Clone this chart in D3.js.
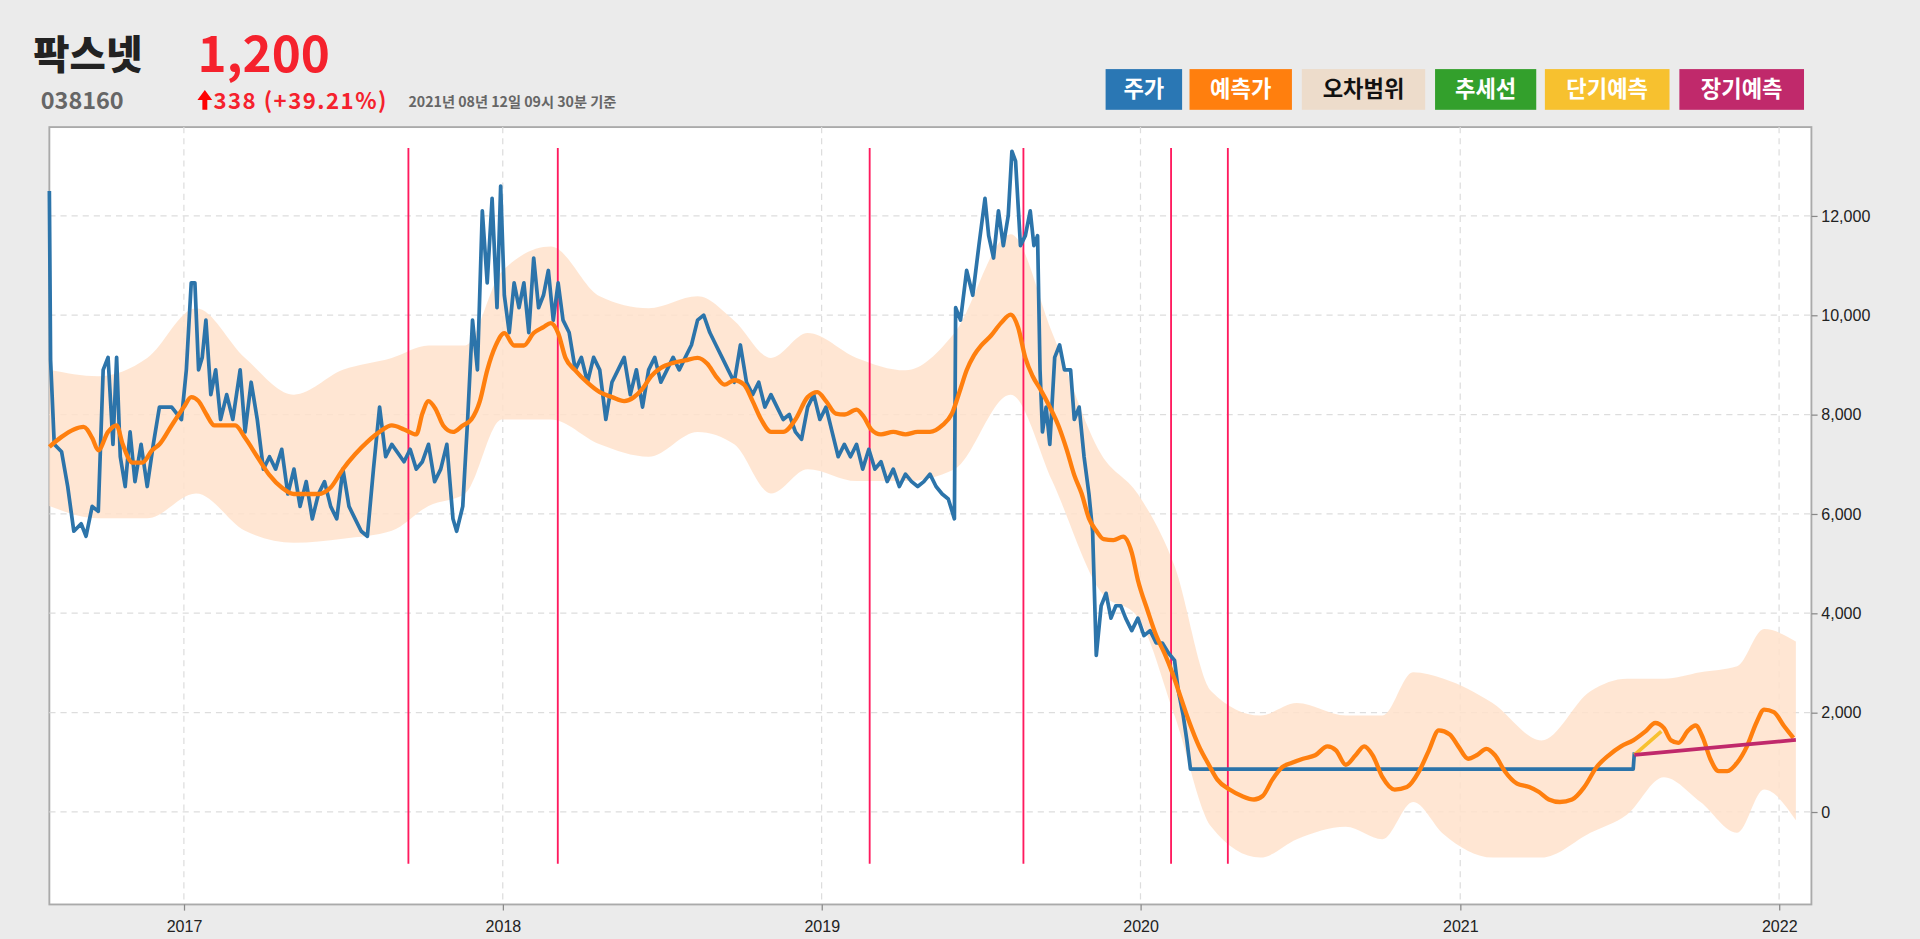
<!DOCTYPE html>
<html><head><meta charset="utf-8">
<script src="https://cdn.jsdelivr.net/npm/d3@7"></script>
<style>body{margin:0;background:#ebebeb;overflow:hidden}svg{display:block}</style>
</head><body>
<script>
// weekly index from 2016-07-31
const priceWeeks=[0,0.2,0.8,2,3,4,5.2,6,7,8,8.8,9.6,10.4,11,11.6,12.4,13.2,14,15,16,17,18,20,21.6,22.4,23.2,23.8,24.4,25,25.6,26.4,27.2,28,29,30,31.2,32,33,34,35,36,37,38,39,40,41,42,43,44,45,46,47,48,49,50,51,52,53,54,55,56,58,59,60,61,62,63,64,65,66,66.6,67.6,68.4,69.2,70,70.8,71.6,72.4,73.2,73.8,74.4,75.2,76,76.8,77.6,78.4,79.2,80,80.8,81.6,82.4,83.2,84,85,86,87,88,89,90,91,92,93,94,95,96,97,98,99,100,101,102,103,104,105,106,107,108,109,110,111,112,113,114,115,116,117,118,119,120,121,122,123,124,125,126,127,128,129,130,131,132,133,134,135,136,137,138,139,140,141,142,143,144,145,146,147,148,148.2,149,150,151,152,153,153.6,154.4,155.2,156,156.8,157.4,158,158.8,159.6,160.4,161,161.6,162,162.4,163,163.6,164.4,165.2,166,167,167.6,168.4,169.2,170,170.6,171.2,172,172.8,173.6,174.4,175.2,176,177,178,179,180,181,182,183,184,184.6,185.4,186,186.6,259,259.2];
const priceValues=[12500,9100,7400,7250,6550,5650,5800,5550,6150,6050,8900,9150,7400,9150,7150,6550,7650,6650,7400,6550,7400,8150,8150,7900,8900,10650,10650,8900,9150,9900,8400,8900,7900,8400,7900,8900,7650,8650,7900,6900,7150,6900,7300,6400,6900,6150,6650,5900,6400,6650,6150,5900,6900,6150,5900,5650,5550,6900,8150,7150,7400,7050,7300,6900,7050,7400,6650,6900,7400,5900,5650,6150,7900,9900,8900,12100,10650,12350,10150,12600,10400,9650,10650,10150,10650,9650,11150,10150,10400,10900,9900,10650,9900,9650,8900,9150,8650,9150,8900,7900,8650,8900,9150,8400,8900,8150,8900,9150,8650,8900,9150,8900,9150,9400,9900,10000,9650,9400,9150,8900,8650,9400,8650,8400,8650,8150,8400,8150,7900,8000,7650,7500,8150,8400,7900,8150,7650,7150,7400,7150,7400,6900,7300,6900,7050,6650,6900,6550,6800,6650,6550,6650,6800,6550,6400,6300,5900,10150,9900,10900,10400,11400,12350,11600,11150,12100,11400,12000,13300,13100,11400,11600,12100,11400,11600,8900,7650,8150,7400,9150,9400,8900,8900,7900,8150,7150,6400,5650,3150,4150,4400,3900,4150,4150,3900,3650,3900,3550,3650,3400,3400,3200,3050,2450,1950,1450,862,862,1200];
const predWeeks=[0,2,4,5.6,7,8,9.6,11,12,13.6,15.2,16.8,18,20,22,23.2,24.4,25.6,27,29,30.4,32,34,36,38,40,42,44,46,48,50,52,54,56,58,60,61,62,63.2,64.4,66,67.6,69,70.4,71.6,73,74.4,76,77.6,79.2,80.8,82,83.2,84.4,86,88,90,92,94,95.6,97,98.4,100,102,104,106,107.6,109,110.4,112,113.6,115,116.4,118,120,122,124,125.6,127,128.6,130,132,133.2,134.4,136,138,140,142,144,146,147.6,149,150,151.2,152.4,154,155.6,157.2,158.4,159.6,160.8,162,163.6,165,166.4,167.6,168.8,170,171.2,172.4,174,175.6,177,178,179.6,181,182.4,183.6,185,186.4,188,189.6,191,193,195,197,198.4,200,201.6,203.2,205,207,209,210.4,212,213.6,215,216.4,218,220,222,224,225.6,227.2,229,230.4,232,233.4,235,236.4,238,240,242,243.6,245.2,247,249,251,253,255,257,259,261,262.6,264,265.2,266.4,268,269.2,270.4,271.6,273,274.4,276,277.6,279.2,280.4,282,283.6,285.2];
const predValues=[7350,7550,7700,7750,7530,7280,7650,7780,7400,7030,7030,7280,7400,7780,8150,8350,8270,8020,7780,7780,7780,7530,7150,6780,6530,6400,6400,6400,6530,6900,7200,7450,7650,7780,7700,7600,8020,8270,8100,7780,7650,7780,7900,8270,8890,9390,9640,9390,9390,9640,9760,9840,9640,9140,8890,8640,8450,8350,8270,8350,8520,8770,8940,9040,9090,9140,9020,8770,8600,8690,8600,8270,7900,7650,7650,7900,8350,8450,8270,8020,8000,8100,7950,7700,7600,7650,7600,7650,7650,7780,8020,8520,8890,9190,9390,9590,9840,10010,9760,9140,8770,8520,8150,7780,7280,6780,6410,5910,5660,5490,5470,5540,5220,4670,4050,3550,3180,2810,2310,1810,1320,950,650,450,320,250,320,650,900,990,1070,1140,1320,1240,950,1140,1320,1140,700,450,500,820,1240,1640,1560,1320,1070,1140,1270,1140,820,570,500,400,250,200,250,500,900,1140,1320,1440,1620,1790,1690,1440,1390,1640,1740,1490,1070,820,820,990,1320,1810,2060,2010,1740,1490];
const bandWeeks=[0,8,16,24,32,40,48,56,62,68,74,82,90,98,106,112,118,124,132,140,148,157.2,164,172,178,184,190,198,204,212,218,223,228,236,244,252,258,264,270,276,280.4,285.6];
const bandUpper=[8900,8770,9140,10140,9140,8400,8900,9140,9390,9390,10880,11380,10380,10140,10380,9890,9140,9640,9140,8890,9640,11630,9640,7200,6400,4950,2430,1940,2190,1940,1940,2810,2680,2190,1440,2430,2680,2680,2810,2930,3680,3430];
const bandLower=[6160,5910,5910,6410,5660,5420,5500,5660,6160,6410,7900,7900,7400,7150,7650,7400,6410,6900,6660,6660,6900,8400,6660,4420,3920,1940,-300,-920,-550,-300,-550,200,-450,-920,-920,-420,-50,700,200,-420,450,-170];
const shortWeeks=[259.2,263.6], shortValues=[1150,1620];
const longWeeks=[259.2,285.6], longValues=[1150,1450];
const eventDates=["2017-09-15","2018-03-05","2019-02-25","2019-08-20","2020-02-05","2020-04-10"];
const yTicks=[0,2000,4000,6000,8000,10000,12000];
const legendLabels=["주가","예측가","오차범위","추세선","단기예측","장기예측"];
const legendColors=["#2a77b4","#ff7f0e","#eddccb","#33a02c","#f7c12f","#c0296b"];
const legendText=["#fff","#fff","#111","#fff","#fff","#fff"];

const W=1556,H=761;
const svg=d3.select("body").append("svg").attr("width",1920).attr("height",939)
 .attr("viewBox",`0 0 ${W} ${H}`).attr("preserveAspectRatio","none");
const start=new Date(2016,6,31);
const wk=w=>new Date(start.getTime()+w*7*864e5);
const L=40,R=1468,T=103,B=733;
const x=d3.scaleTime().domain([start,new Date(2022,1,7)]).range([L,R]);
const y=d3.scaleLinear().domain([(658-B)*24.84/1,(658-T)*24.84]).range([B,T]);
const kr="'Noto Sans CJK KR','Noto Sans',sans-serif";

svg.append("rect").attr("x",L).attr("y",T).attr("width",R-L).attr("height",B-T).attr("fill","#fff").attr("stroke","#aaa").attr("stroke-width",1.5);
const g=svg.append("g");
const xt=x.ticks(d3.timeYear.every(1));
g.selectAll(".vg").data(xt).join("line").attr("x1",d=>x(d)).attr("x2",d=>x(d)).attr("y1",T).attr("y2",B).attr("stroke","#ddd").attr("stroke-dasharray","5,4");
g.selectAll(".hg").data(yTicks).join("line").attr("x1",L).attr("x2",R).attr("y1",d=>y(d)).attr("y2",d=>y(d)).attr("stroke","#ddd").attr("stroke-dasharray","5,4");
g.append("g").attr("transform",`translate(0,${B})`).call(d3.axisBottom(x).tickValues(xt).tickFormat(d3.timeFormat("%Y")).tickSize(5))
 .call(a=>{a.select(".domain").remove();a.selectAll("text").attr("font-family","Liberation Sans,Arial").attr("font-size",13).attr("fill","#222").attr("dy","1.1em");a.selectAll("line").attr("stroke","#888")});
g.append("g").attr("transform",`translate(${R},0)`).call(d3.axisRight(y).tickValues(yTicks).tickFormat(d3.format(",")).tickSize(5))
 .call(a=>{a.select(".domain").remove();a.selectAll("text").attr("font-family","Liberation Sans,Arial").attr("font-size",13).attr("fill","#222");a.selectAll("line").attr("stroke","#888")});

const band=d3.area().x((d,i)=>x(wk(bandWeeks[i]))).y0((d,i)=>y(bandLower[i])).y1((d,i)=>y(bandUpper[i])).curve(d3.curveMonotoneX);
g.append("path").datum(bandWeeks).attr("d",band).attr("fill","#ffe2cb").attr("opacity",0.85);
g.selectAll(".ev").data(eventDates).join("line").attr("x1",d=>x(new Date(d))).attr("x2",d=>x(new Date(d))).attr("y1",120).attr("y2",700).attr("stroke","#ff1a5e").attr("stroke-width",1.5);
const line=(ws,vs,c,w,curve)=>g.append("path").datum(ws).attr("fill","none").attr("stroke",c).attr("stroke-width",w).attr("stroke-linejoin","round")
 .attr("d",d3.line().x((d,i)=>x(wk(ws[i]))).y((d,i)=>y(vs[i])).curve(curve||d3.curveLinear));
line(priceWeeks,priceValues,"#2c74aa",3);
line(predWeeks,predValues,"#ff7f0e",3.5,d3.curveMonotoneX);
line(shortWeeks,shortValues,"#f7c12f",3);
line(longWeeks,longValues,"#c0296b",3);

// header
svg.append("text").attr("x",27).attr("y",56).text("팍스넷").attr("font-family",kr).attr("font-weight",900).attr("font-size",32).attr("fill","#222");
svg.append("text").attr("x",160).attr("y",58).text("1,200").attr("font-family",kr).attr("font-weight",700).attr("font-size",40).attr("fill","#f5222d");
svg.append("text").attr("x",33).attr("y",88).text("038160").attr("font-family",kr).attr("font-weight",700).attr("font-size",19).attr("fill","#666");
svg.append("path").attr("d","M166,73 L160,81 L164,81 L164,89 L168,89 L168,81 L172,81 Z").attr("fill","#ff0000");
svg.append("text").attr("x",173).attr("y",88).text("338 (+39.21%)").attr("font-family",kr).attr("font-weight",700).attr("font-size",18).attr("letter-spacing",1.2).attr("fill","#f5222d");
svg.append("text").attr("x",331).attr("y",87).text("2021년 08년 12일 09시 30분 기준").attr("font-family",kr).attr("font-weight",700).attr("font-size",11.5).attr("fill","#666");
const lx=[896,964,1055,1163,1252,1361], lw=[62,83,100,82,101,101];
legendLabels.forEach((t,i)=>{
 svg.append("rect").attr("x",lx[i]).attr("y",56).attr("width",lw[i]).attr("height",33).attr("fill",legendColors[i]);
 svg.append("text").attr("x",lx[i]+lw[i]/2).attr("y",79).attr("text-anchor","middle").text(t).attr("font-family",kr).attr("font-weight",700).attr("font-size",18).attr("fill",legendText[i]);
});
</script></body></html>
